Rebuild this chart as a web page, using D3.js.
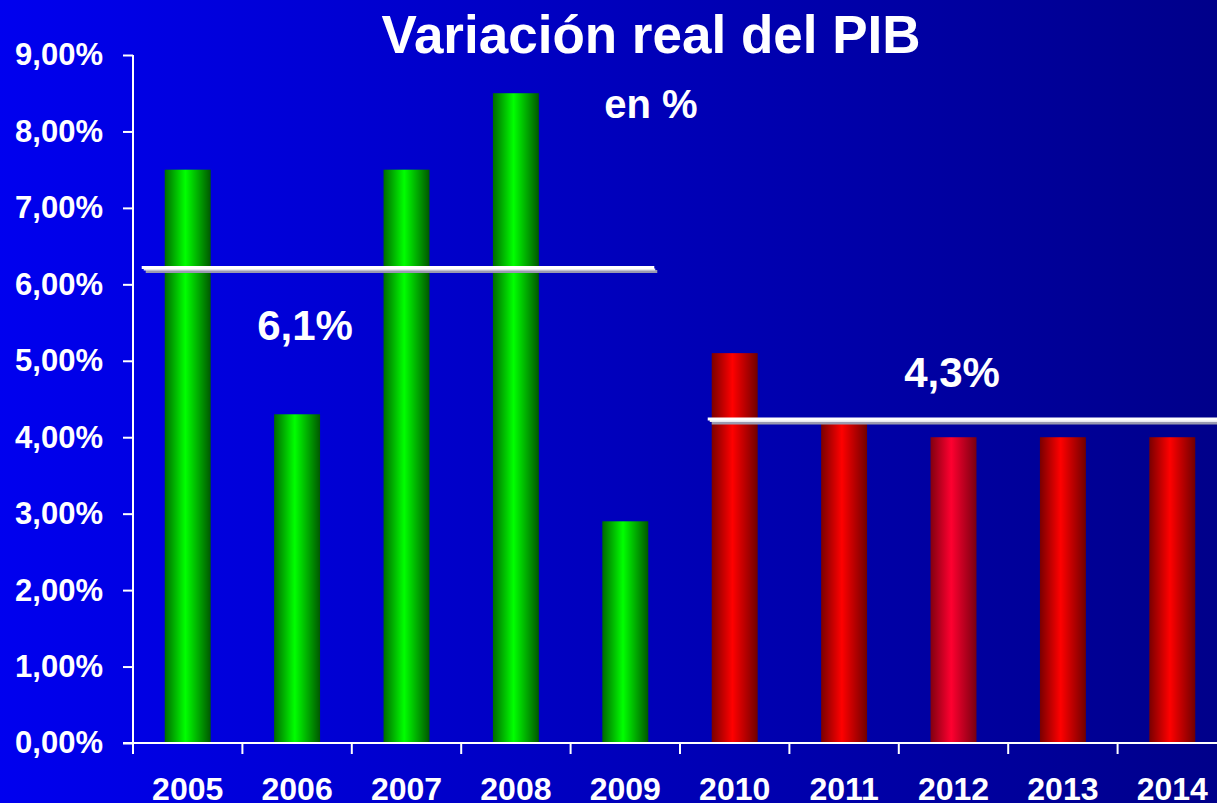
<!DOCTYPE html>
<html><head><meta charset="utf-8">
<script src="https://cdn.jsdelivr.net/npm/d3@7"></script>
<style>html,body{margin:0;padding:0;overflow:hidden;background:#00008a}</style>
</head><body>
<script>
const years = ["2005","2006","2007","2008","2009","2010","2011","2012","2013","2014"];
const growth = [7.5, 4.3, 7.5, 8.5, 2.9, 5.1, 4.2, 4.0, 4.0, 4.0];
const period = ["real","real","real","real","real","proj","proj","proj","proj","proj"];
const yTicks = [0,1,2,3,4,5,6,7,8,9];
const avgLines = [
  {from: "2005", to: "2009", value: 6.22, label: "6,1%"},
  {from: "2010", to: "2014", value: 4.24, label: "4,3%"}
];
const title = "Variación real del PIB";
const subtitle = "en %";

const W = 1217, H = 803;
const svg = d3.select("body").append("svg").attr("width", W).attr("height", H);
const defs = svg.append("defs");

const bg = defs.append("linearGradient").attr("id","bg").attr("x1","0").attr("x2","1").attr("y1","0").attr("y2","0");
bg.append("stop").attr("offset","0").attr("stop-color","#0000ef");
bg.append("stop").attr("offset","1").attr("stop-color","#00008a");
svg.append("rect").attr("width",W).attr("height",H).attr("fill","url(#bg)");

function grad(id, edgeL, mid, edgeR){
  const g = defs.append("linearGradient").attr("id",id).attr("x1","0").attr("x2","1").attr("y1","0").attr("y2","0");
  g.append("stop").attr("offset","0").attr("stop-color",edgeL);
  g.append("stop").attr("offset","0.45").attr("stop-color",mid);
  g.append("stop").attr("offset","1").attr("stop-color",edgeR);
}
grad("gGreen","#006a00","#00ff00","#005800");
grad("gRed","#7a0000","#ff0000","#700000");
grad("gPink","#800010","#ff0030","#780010");

const x = d3.scaleBand().domain(years).range([133, 1227]).paddingInner(0.58).paddingOuter(0.29);
const y = d3.scaleLinear().domain([0, 9]).range([743, 55]);

// bars
svg.append("g").selectAll("rect").data(years).join("rect")
  .attr("x", d => x(d))
  .attr("width", x.bandwidth())
  .attr("y", (d,i) => y(growth[i]))
  .attr("height", (d,i) => y(0) - y(growth[i]))
  .attr("fill", (d,i) => period[i] === "real" ? "url(#gGreen)" : (d === "2012" ? "url(#gPink)" : "url(#gRed)"));

// y axis
const fmt = v => v.toFixed(2).replace(".", ",") + "%";
const font = "'Liberation Sans', Arial, sans-serif";
const yAx = svg.append("g").attr("transform","translate(133,0)")
  .call(d3.axisLeft(y).tickValues(yTicks).tickSize(10).tickPadding(20).tickFormat(fmt));
yAx.select(".domain").attr("stroke","#fff").attr("stroke-width",2).attr("d","M0,55V743");
yAx.selectAll(".tick line").attr("stroke","#fff").attr("stroke-width",2);
yAx.selectAll(".tick text").attr("fill","#fff").attr("font-family",font)
  .attr("font-weight","bold").attr("font-size","31px");

// x axis
const step = x.step();
const gap = (step - x.bandwidth())/2;
const bounds = years.map(d => x(d) - gap);
const xAx = svg.append("g");
xAx.append("line").attr("x1",123).attr("x2",W).attr("y1",y(0)).attr("y2",y(0)).attr("stroke","#fff").attr("stroke-width",2);
xAx.selectAll("line.t").data(bounds).join("line").attr("class","t")
  .attr("x1",d=>d).attr("x2",d=>d).attr("y1",y(0)).attr("y2",y(0)+11).attr("stroke","#fff").attr("stroke-width",2);
xAx.selectAll("text").data(years).join("text")
  .attr("x", d => x(d) + x.bandwidth()/2).attr("y", 800)
  .attr("text-anchor","middle").attr("fill","#fff")
  .attr("font-family",font).attr("font-weight","bold").attr("font-size","32px")
  .text(d => d);

// average lines
const lineExt = [[-23, 6], [-4, 80]];
avgLines.forEach((a, k) => {
  const x1 = x(a.from) + lineExt[k][0];
  const x2 = x(a.to) + x.bandwidth() + lineExt[k][1];
  const yy = y(a.value);
  svg.append("line").attr("x1",x1+4).attr("x2",x2+3).attr("y1",yy+4).attr("y2",yy+4)
    .attr("stroke","#9a9ab0").attr("stroke-width",3);
  svg.append("line").attr("x1",x1+2).attr("x2",x2+1).attr("y1",yy+2).attr("y2",yy+2)
    .attr("stroke","#e8e8f0").attr("stroke-width",2);
  svg.append("line").attr("x1",x1).attr("x2",x2).attr("y1",yy).attr("y2",yy)
    .attr("stroke","#ffffff").attr("stroke-width",3);
});

// labels
svg.append("text").attr("x",305).attr("y",340).attr("text-anchor","middle").attr("fill","#fff")
  .attr("font-family",font).attr("font-weight","bold").attr("font-size","42px").text(avgLines[0].label);
svg.append("text").attr("x",952).attr("y",387).attr("text-anchor","middle").attr("fill","#fff")
  .attr("font-family",font).attr("font-weight","bold").attr("font-size","42px").text(avgLines[1].label);
svg.append("text").attr("x",651).attr("y",53).attr("text-anchor","middle").attr("fill","#fff")
  .attr("font-family",font).attr("font-weight","bold").attr("font-size","53px").text(title);
svg.append("text").attr("x",651).attr("y",118).attr("text-anchor","middle").attr("fill","#fff")
  .attr("font-family",font).attr("font-weight","bold").attr("font-size","40px").text(subtitle);
</script>
</body></html>
